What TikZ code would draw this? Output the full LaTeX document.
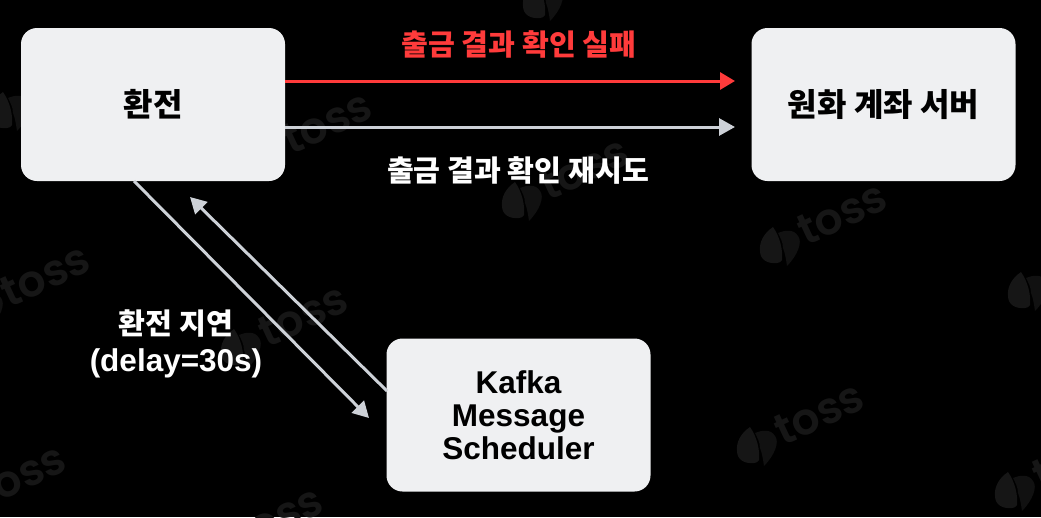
\documentclass[tikz,border=0pt]{standalone}
\usepackage{fontspec}
\setmainfont{Noto Sans CJK KR}
\newfontfamily\latinfont{Liberation Sans}
\newfontfamily\wmfont{Poppins}[BoldFont=* SemiBold]
\usetikzlibrary{arrows.meta}
\definecolor{boxfill}{HTML}{EFF0F2}
\definecolor{linegray}{HTML}{CDD1D7}
\definecolor{linered}{HTML}{FF3B3B}
\definecolor{wmark}{HTML}{161616}
\definecolor{wmarkb}{HTML}{111111}
\tikzset{
  card/.style={fill=boxfill,rounded corners=16pt,minimum width=264pt,minimum height=153pt,inner sep=0pt,align=center,font=\fontsize{32}{33}\selectfont\bfseries,text=black},
  lab/.style={font=\fontsize{29.2}{37}\selectfont\bfseries,align=center,text=white,inner sep=0pt},
  conn/.style={line width=3pt,-{Triangle[length=16pt,width=17pt]}},
  wmtext/.style={font=\fontsize{44}{44}\selectfont\wmfont\bfseries,text=wmark,rotate=25,anchor=center,inner sep=0pt}
}
\newcommand{\tosswm}[3]{% name, logo centre x, y
  \begin{scope}[shift={(#2,#3)}]
    \fill[wmark] (-7,-18) .. controls (-16,-12) and (-21,-3) .. (-20,6) .. controls (-20,15) and (-12,19) .. (-3,18) .. controls (-1,18) and (1,17) .. (2,15) .. controls (3,5) and (0,-8) .. (-7,-18) -- cycle;
    \fill[wmarkb] (-2,-12) .. controls (5,-15) and (14,-16) .. (18,-9) .. controls (23,-3) and (17,11) .. (7,21) .. controls (6,14) and (5,8) .. (3,3) .. controls (3,-3) and (0,-8) .. (-2,-12) -- cycle;
    \node[wmtext] (#1) at (62,-32) {toss};
  \end{scope}}
\newcommand{\kfont}{\latinfont\fontsize{31.5}{33}\selectfont\bfseries}
\begin{document}
\begin{tikzpicture}[x=1pt,y=-1pt]
\useasboundingbox (0,0) rectangle (1041,517);
\fill[black] (0,0) rectangle (1041,517);
\begin{scope}
\clip (0,0) rectangle (1041,517);
\tosswm{wa}{10}{110}
\tosswm{wb}{265}{154}
\tosswm{wc}{543}{0}
\tosswm{wd}{522}{200}
\tosswm{we}{780}{245}
\tosswm{wf}{1028}{290}
\tosswm{wg}{-17}{307}
\tosswm{wh}{241}{347}
\tosswm{wi}{757}{445}
\tosswm{wl}{1015}{490}
\tosswm{wj}{-41}{507}
\tosswm{wk}{216}{549}
\end{scope}
\node[card] (fx) at (153,104.5) {환전};
\node[card] (krw) at (883.5,104.5) {원화 계좌 서버};
\node[card] (kafka) at (518.5,415) {\kfont Kafka\\\kfont Message\\\kfont Scheduler};
\coordinate (fxred) at (fx.east |- 0,81);
\coordinate (fxgray) at (fx.east |- 0,127);
\coordinate (krwred) at (735,81);
\coordinate (krwgray) at (735,127);
\coordinate (fxout) at (134,181);
\coordinate (kafkain) at (369,418);
\coordinate (kafkaout) at (387,391);
\coordinate (fxin) at (190,197);
\draw[conn,draw=linered,-{Triangle[length=15pt,width=17pt,fill=linered]}] (fxred) -- (krwred);
\draw[conn,draw=linegray] (fxgray) -- (krwgray);
\draw[conn,draw=linegray] (fxout) -- (kafkain);
\draw[conn,draw=linegray] (kafkaout) -- (fxin);
\node[lab,text=linered] (failtxt) at (519,44.5) {출금 결과 확인 실패};
\node[lab] (retrytxt) at (518,170) {출금 결과 확인 재시도};
\node[lab] (delaytxt) at (176,344) {환전 지연\\{\latinfont\fontsize{31.5}{37}\selectfont\bfseries (delay=30s)}};
\end{tikzpicture}
\end{document}
